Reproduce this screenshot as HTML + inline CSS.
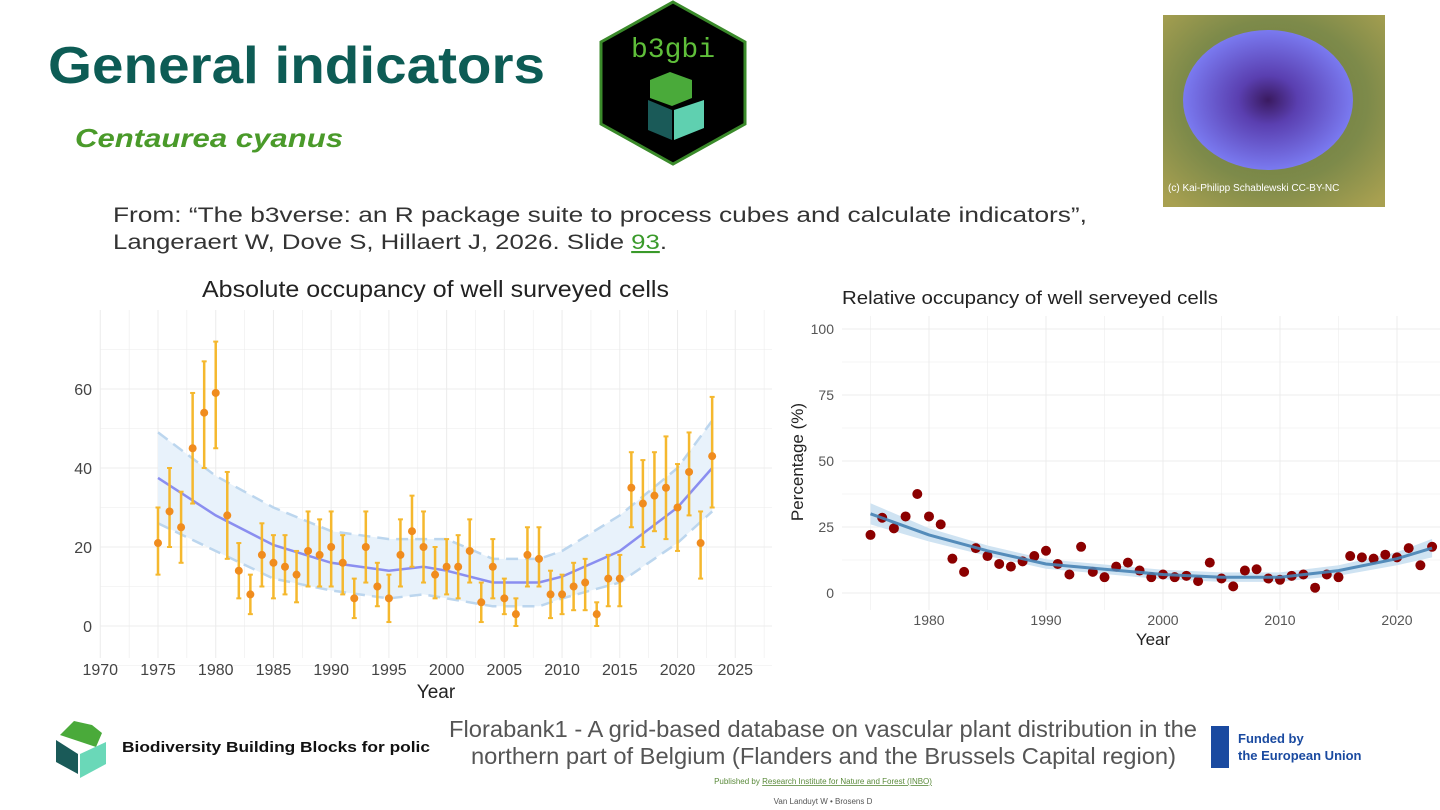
<!DOCTYPE html>
<html><head><meta charset="utf-8"><style>
html,body{margin:0;padding:0;background:#fff;width:1440px;height:810px;overflow:hidden}
svg{display:block;font-family:"Liberation Sans",sans-serif}
</style></head><body>
<svg id="s" width="1440" height="810" viewBox="0 0 1440 810">
<defs>
<radialGradient id="bg" cx="50%" cy="45%" r="70%"><stop offset="0" stop-color="#6a7a3a"/><stop offset="0.6" stop-color="#7d8a4a"/><stop offset="1" stop-color="#a8a050"/></radialGradient>
<radialGradient id="fl" cx="50%" cy="50%" r="50%"><stop offset="0" stop-color="#3a1a60"/><stop offset="0.35" stop-color="#5a3fb0"/><stop offset="1" stop-color="#7a7af0"/></radialGradient>
</defs>
<text x="48" y="83" font-size="52" font-weight="bold" fill="#0d5c55" textLength="497" lengthAdjust="spacingAndGlyphs">General indicators</text>
<text x="75" y="147" font-size="26" font-weight="bold" font-style="italic" fill="#4a9a2a" textLength="268" lengthAdjust="spacingAndGlyphs">Centaurea cyanus</text>
<g>
<polygon points="673,2 745,42 745,124 673,164 601,124 601,42" fill="#000" stroke="#3a8a2a" stroke-width="3"/>
<text x="673" y="57" font-size="28" fill="#5fbf3a" text-anchor="middle" font-family="Liberation Mono,monospace">b3gbi</text>
<path d="M650 80 l20 -8 l22 8 l0 18 l-20 8 l-22 -8z" fill="#4aaa3a"/>
<path d="M648 100 l24 10 l0 30 l-24 -10z" fill="#1a5a58"/><path d="M674 110 l30 -10 l0 28 l-30 12z" fill="#5fd0b0"/>
</g>
<g>
<rect x="1163" y="15" width="222" height="192" fill="url(#bg)"/>
<ellipse cx="1268" cy="100" rx="85" ry="70" fill="url(#fl)"/>
<text x="1168" y="191" font-size="10" fill="#fff">(c) Kai-Philipp Schablewski CC-BY-NC</text>
</g>
<text x="113" y="222" font-size="21" fill="#333" textLength="974" lengthAdjust="spacingAndGlyphs">From: “The b3verse: an R package suite to process cubes and calculate indicators”,</text>
<text x="113" y="249" font-size="21" fill="#333" textLength="554" lengthAdjust="spacingAndGlyphs">Langeraert W, Dove S, Hillaert J, 2026. Slide <tspan fill="#3a9a2a" text-decoration="underline">93</tspan>.</text>
<g id="left"></g>
<g id="right"></g>
<g>
<path d="M60 735 l14 -14 l18 4 l10 8 l-6 14z" fill="#4aaa3a"/>
<path d="M56 740 l22 14 l0 20 l-22 -12z" fill="#1a5a58"/><path d="M80 754 l26 -12 l0 22 l-26 14z" fill="#6ad8b8"/>
<text x="122" y="752" font-size="15" font-weight="bold" fill="#111" textLength="308" lengthAdjust="spacingAndGlyphs">Biodiversity Building Blocks for polic</text>
<text x="449" y="737" font-size="23" fill="#555" textLength="748" lengthAdjust="spacingAndGlyphs">Florabank1 - A grid-based database on vascular plant distribution in the</text>
<text x="471" y="764" font-size="23" fill="#555" textLength="705" lengthAdjust="spacingAndGlyphs">northern part of Belgium (Flanders and the Brussels Capital region)</text>
<text x="823" y="784" font-size="8" fill="#5a8a3a" text-anchor="middle">Published by <tspan text-decoration="underline">Research Institute for Nature and Forest (INBO)</tspan></text>
<text x="823" y="804" font-size="8" fill="#555" text-anchor="middle">Van Landuyt W • Brosens D</text>
<rect x="1211" y="726" width="18" height="42" fill="#1a4aa0"/>
<text x="1238" y="743" font-size="13" font-weight="bold" fill="#1a4aa0">Funded by</text>
<text x="1238" y="760" font-size="13" font-weight="bold" fill="#1a4aa0">the European Union</text>
</g>
</svg>
<script>
const yearsL=[];for(let y=1975;y<=2023;y++)yearsL.push(y);
const valL=[21,29,25,45,54,59,28,14,8,18,16,15,13,19,18,20,16,7,20,10,7,18,24,20,13,15,15,19,6,15,7,3,18,17,8,8,10,11,3,12,12,35,31,33,35,30,39,21,43];
const loL=[13,20,16,31,40,45,17,7,3,10,7,8,6,10,10,10,8,2,11,5,1,10,15,11,7,8,7,11,1,7,3,0,10,10,2,3,4,4,0,5,5,25,20,24,22,19,28,12,30];
const hiL=[30,40,34,59,67,72,39,21,13,26,23,23,19,29,27,29,23,12,29,16,13,27,33,29,20,22,23,27,11,22,12,7,25,25,14,13,16,17,6,18,18,44,42,44,48,41,49,29,58];
const fitYears=[1975,1980,1985,1990,1995,1998,2000,2004,2008,2010,2015,2020,2023];
const fitL=[37.5,28,20.5,16,14,15,14,11,11,12.5,19,30,40];
const bandHiL=[49,38,30,24,22,22,22,17,17,19,28,40,52];
const bandLoL=[26,19,12,9,7,8,7,5,5,7,11,21,29];
const xTicksL=[1970,1975,1980,1985,1990,1995,2000,2005,2010,2015,2020,2025];
const yTicksL=[0,20,40,60];
const valR=[22,28.5,24.5,29,37.5,29,26,13,8,17,14,11,10,12,14,16,11,7,17.5,8,6,10,11.5,8.5,6,7,6,6.5,4.5,11.5,5.5,2.5,8.5,9,5.5,5,6.5,7,2,7,6,14,13.5,13,14.5,13.5,17,10.5,17.5];
const fitYearsR=[1975,1980,1985,1990,1995,2000,2005,2010,2015,2020,2023];
const fitR=[30,22,16,11,9,7,6,6,8.5,13,17];
const bandR=[4,2.5,2,1.8,1.8,1.8,1.8,1.8,2,2.5,3.5];
const xTicksR=[1980,1990,2000,2010,2020];
const yTicksR=[0,25,50,75,100];
const NS="http://www.w3.org/2000/svg";
function mk(p,t,a){const e=document.createElementNS(NS,t);for(const k in a)e.setAttribute(k,a[k]);p.appendChild(e);return e;}
function path(pts){return pts.map((p,i)=>(i?'L':'M')+p[0].toFixed(1)+' '+p[1].toFixed(1)).join('');}
// Left chart
const L=document.getElementById('left');
const xL=y=>158+(y-1975)*11.545, yL=v=>626-v*3.95;
mk(L,'text',{x:202,y:297,'font-size':23,fill:'#222',textLength:467,lengthAdjust:'spacingAndGlyphs'}).textContent='Absolute occupancy of well surveyed cells';
for(let y=1970;y<=2027.5;y+=2.5){mk(L,'line',{x1:xL(y),x2:xL(y),y1:310,y2:658,stroke:'#ececec','stroke-width':y%5?0.6:1});}
for(let v=-10;v<=75;v+=10){mk(L,'line',{x1:100,x2:772,y1:yL(v),y2:yL(v),stroke:'#ececec','stroke-width':v%20?0.6:1});}
xTicksL.forEach(t=>{const e=mk(L,'text',{x:xL(t),y:675,'font-size':16,fill:'#444','text-anchor':'middle'});e.textContent=t;});
yTicksL.forEach(t=>{const e=mk(L,'text',{x:92,y:yL(t)+6,'font-size':16,fill:'#444','text-anchor':'end'});e.textContent=t;});
mk(L,'text',{x:436,y:698,'font-size':19,fill:'#222','text-anchor':'middle'}).textContent='Year';
const hiP=fitYears.map((y,i)=>[xL(y),yL(bandHiL[i])]), loP=fitYears.map((y,i)=>[xL(y),yL(bandLoL[i])]);
const band=mk(L,'path',{d:path(hiP.concat(loP.slice().reverse()))+'Z',fill:'#e8f2fb'});


mk(L,'path',{d:path(hiP),fill:'none',stroke:'#bcd6ee','stroke-width':2.5,'stroke-dasharray':'12 7'});
mk(L,'path',{d:path(loP),fill:'none',stroke:'#bcd6ee','stroke-width':2.5,'stroke-dasharray':'12 7'});
const fl=mk(L,'path',{d:path(fitYears.map((y,i)=>[xL(y),yL(fitL[i])])),fill:'none',stroke:'#8a8ef0','stroke-width':2.5});


yearsL.forEach((y,i)=>{
 const g=mk(L,'g',{});
 
 
 const x=xL(y);
 mk(g,'line',{x1:x,x2:x,y1:yL(loL[i]),y2:yL(hiL[i]),stroke:'#f5b82e','stroke-width':2.5});
 mk(g,'line',{x1:x-2.5,x2:x+2.5,y1:yL(loL[i]),y2:yL(loL[i]),stroke:'#f5b82e','stroke-width':2});
 mk(g,'line',{x1:x-2.5,x2:x+2.5,y1:yL(hiL[i]),y2:yL(hiL[i]),stroke:'#f5b82e','stroke-width':2});
 mk(g,'circle',{cx:x,cy:yL(valL[i]),r:4,fill:'#f08c1e'});
});
// Right chart
const R=document.getElementById('right');
const xR=y=>929+(y-1980)*11.7, yR=v=>593-v*2.64;
mk(R,'text',{x:842,y:304,'font-size':18,fill:'#222',textLength:376,lengthAdjust:'spacingAndGlyphs'}).textContent='Relative occupancy of well serveyed cells';
for(let y=1975;y<=2025;y+=5){mk(R,'line',{x1:xR(y),x2:xR(y),y1:316,y2:610,stroke:'#ececec','stroke-width':y%10?0.6:1});}
for(let v=0;v<=100;v+=12.5){mk(R,'line',{x1:842,x2:1440,y1:yR(v),y2:yR(v),stroke:'#ececec','stroke-width':v%25?0.6:1});}
xTicksR.forEach(t=>{const e=mk(R,'text',{x:xR(t),y:625,'font-size':14,fill:'#555','text-anchor':'middle'});e.textContent=t;});
yTicksR.forEach(t=>{const e=mk(R,'text',{x:834,y:yR(t)+5,'font-size':14,fill:'#555','text-anchor':'end'});e.textContent=t;});
mk(R,'text',{x:1153,y:645,'font-size':17,fill:'#222','text-anchor':'middle'}).textContent='Year';
mk(R,'text',{x:803,y:462,'font-size':17,fill:'#222','text-anchor':'middle',transform:'rotate(-90 803 462)'}).textContent='Percentage (%)';
const bh=fitYearsR.map((y,i)=>[xR(y),yR(fitR[i]+bandR[i])]), bl=fitYearsR.map((y,i)=>[xR(y),yR(fitR[i]-bandR[i])]);
mk(R,'path',{d:path(bh.concat(bl.reverse()))+'Z',fill:'#cfe3f2'});
yearsL.forEach((y,i)=>{
 const c=mk(R,'circle',{cx:xR(y),cy:yR(valR[i]),r:5,fill:'#8b0000'});
 
 
});
const fr=mk(R,'path',{d:path(fitYearsR.map((y,i)=>[xR(y),yR(fitR[i])])),fill:'none',stroke:'#4682b4','stroke-width':3,opacity:0.9});


</script>
</body></html>
